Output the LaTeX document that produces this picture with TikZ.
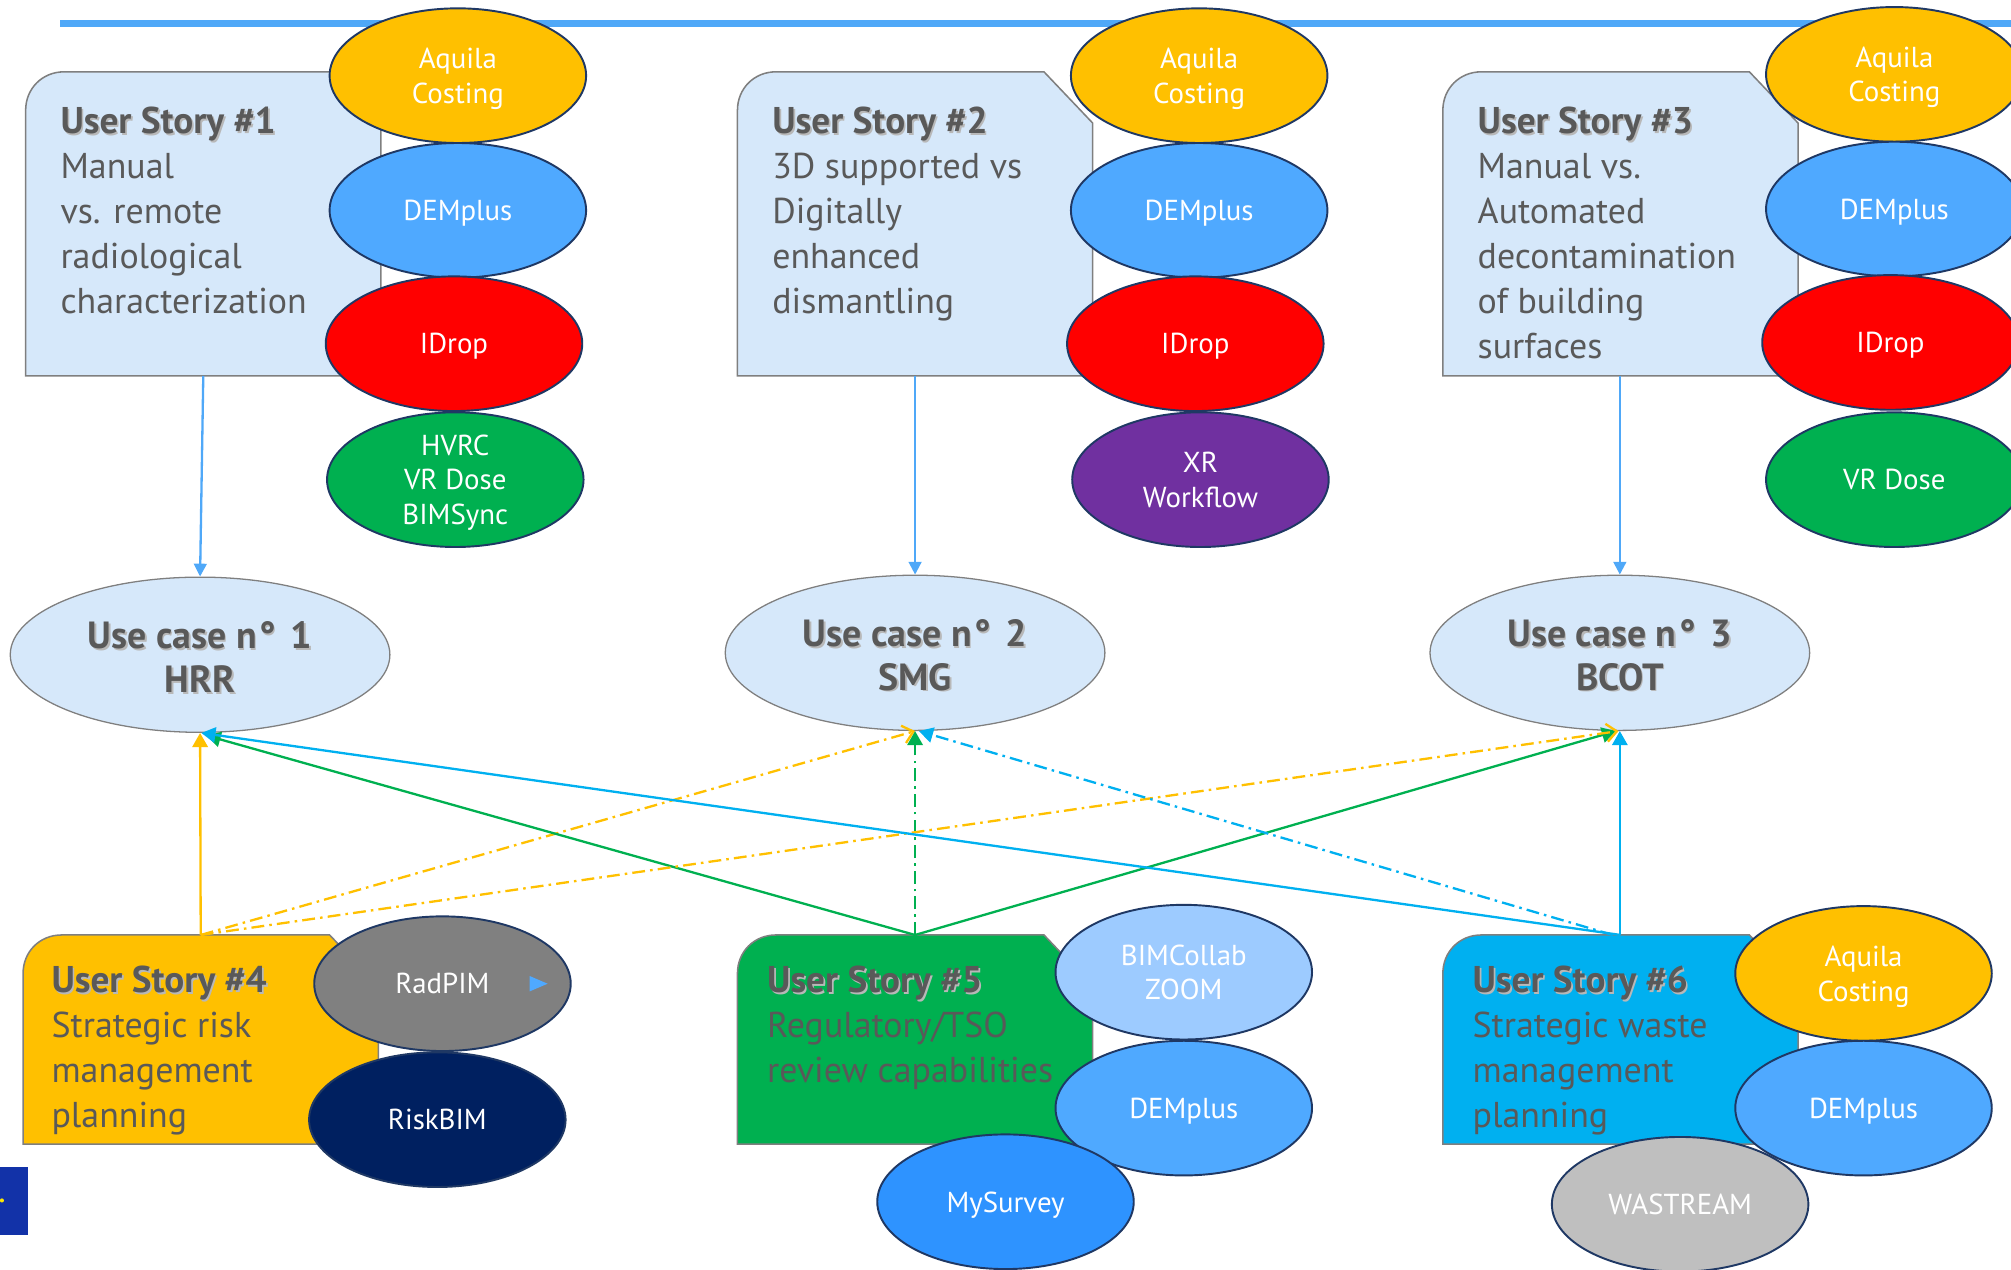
\documentclass[tikz,border=0pt]{standalone}
\usepackage{fontspec}
\setmainfont{PT Sans}
\usetikzlibrary{shapes.geometric,arrows.meta,calc}
\definecolor{boxfill}{HTML}{D6E8FA}
\definecolor{boxline}{HTML}{7F7F7F}
\definecolor{txtgray}{HTML}{595959}
\definecolor{shgray}{HTML}{B8B8B8}
\definecolor{ellline}{HTML}{1F3864}
\definecolor{cAquila}{HTML}{FFC000}
\definecolor{cDEM}{HTML}{4FA9FF}
\definecolor{cIDrop}{HTML}{FF0000}
\definecolor{cGreen}{HTML}{00B050}
\definecolor{cPurple}{HTML}{7030A0}
\definecolor{cRad}{HTML}{808080}
\definecolor{cRisk}{HTML}{002060}
\definecolor{cBIM}{HTML}{9DCBFF}
\definecolor{cMySurvey}{HTML}{2E93FF}
\definecolor{cWaste}{HTML}{BFBFBF}
\definecolor{cLineBlue}{HTML}{00B0F0}
\definecolor{cTop}{HTML}{4FA8F8}
\definecolor{euBlue}{HTML}{1232A8}
\newcommand\shtext[1]{\makebox[0pt][l]{\kern1.3pt\raisebox{-1.3pt}{\textcolor{shgray}{#1}}}#1}
\newcommand\ustitle[1]{\shtext{\fontsize{29}{35}\selectfont\bfseries #1}}
\tikzset{
  boxnode/.style={rectangle, draw=none, inner sep=0pt, outer sep=0pt},
  ustext/.style={anchor=north west, inner sep=0pt, align=left, text=txtgray, font=\fontsize{28}{35}\selectfont},
  tool/.style={ellipse, draw=ellline, line width=1.5pt, minimum width=200pt, minimum height=105pt, inner sep=0pt, text=white, align=center, text depth=0pt, font=\fontsize{22.5}{27}\selectfont},
  usecase/.style={ellipse, draw=boxline, line width=1pt, fill=boxfill, minimum width=296pt, minimum height=121pt, inner sep=0pt},
  uclabel/.style={inner sep=0pt, text=txtgray, align=center, font=\bfseries\fontsize{29.5}{34}\selectfont},
  toparrow/.style={draw=cTop, line width=1.8pt, -{Triangle[length=10pt,width=10pt]}},
  conn/.style={line width=1.8pt},
  dashdot/.style={dash pattern=on 10pt off 4pt on 2pt off 4pt},
  filledtip/.style={-{Triangle[length=11pt,width=12pt]}},
  opentip/.style={-{Straight Barb[length=8pt,width=14pt,line width=1.8pt]}}
}
\begin{document}
\begin{tikzpicture}[x=1pt,y=-1pt]
\useasboundingbox (0,0) rectangle (1568,990);
% top rule
\draw[cTop, line width=5.5pt] (47,18) -- (1570,18);

% user story box frames
\node[boxnode, minimum width=277pt, minimum height=237pt] (us1) at (158.5,174.5) {};
\node[boxnode, minimum width=277pt, minimum height=237pt] (us2) at (713.5,174.5) {};
\node[boxnode, minimum width=277pt, minimum height=237pt] (us3) at (1263.5,174.5) {};
\node[boxnode, minimum width=277pt, minimum height=163pt] (us4) at (156.5,810.5) {};
\node[boxnode, minimum width=277pt, minimum height=163pt] (us5) at (713.5,810.5) {};
\node[boxnode, minimum width=277pt, minimum height=163pt] (us6) at (1263.5,810.5) {};
\foreach \b/\c in {us1/boxfill,us2/boxfill,us3/boxfill,us4/cAquila,us5/cGreen,us6/cLineBlue}{
  \draw[draw=boxline, line width=1.2pt, fill=\c]
    (\b.south west) -- ([yshift=-30pt]\b.north west)
    .. controls ([yshift=-13pt]\b.north west) and ([xshift=13pt]\b.north west) .. ([xshift=30pt]\b.north west)
    -- ([xshift=-38pt]\b.north east) -- ([yshift=-40pt]\b.north east) -- (\b.south east) -- cycle;
}

% texts of the boxes
\node[ustext] (t1) at (47,79.5) {\strut\ustitle{User Story \#1}\\Manual\\vs. remote\\radiological\\characterization};
\node[ustext] (t2) at (602,79.5) {\strut\ustitle{User Story \#2}\\3D supported vs\\Digitally\\enhanced\\dismantling};
\node[ustext] (t3) at (1152,79.5) {\strut\ustitle{User Story \#3}\\Manual vs.\\Automated\\decontamination\\of building\\surfaces};
\node[ustext] (t4) at (40,749.5) {\strut\ustitle{User Story \#4}\\Strategic risk\\management\\planning};
\node[ustext] (t5) at (598,749.5) {\strut\ustitle{User Story \#5}\\Regulatory/TSO\\review capabilities};
\node[ustext] (t6) at (1148,749.5) {\strut\ustitle{User Story \#6}\\Strategic waste\\management\\planning};

% use cases
\node[usecase] (uc1) at (156,510.5) {};
\node[usecase] (uc2) at (713.5,509) {};
\node[usecase] (uc3) at (1263,509) {};
\node[uclabel] (l1) at ([yshift=-2.5pt]uc1.center) {\shtext{Use case n\kern2pt°\hspace{0.4em}1}\\\shtext{HRR}};
\node[uclabel] (l2) at ([yshift=-2.5pt]uc2.center) {\shtext{Use case n\kern2pt°\hspace{0.4em}2}\\\shtext{SMG}};
\node[uclabel] (l3) at ([yshift=-2.5pt]uc3.center) {\shtext{Use case n\kern2pt°\hspace{0.4em}3}\\\shtext{BCOT}};

% top tool groups
\node[tool, fill=cAquila] (a1) at (357,59) {Aquila\\Costing};
\node[tool, fill=cDEM] (d1) at (357,164) {DEMplus};
\node[tool, fill=cIDrop] (i1) at (354,268) {IDrop};
\node[tool, fill=cGreen] (h1) at (355,374) {HVRC\\VR Dose\\BIMSync};

\node[tool, fill=cAquila] (a2) at (935,59) {Aquila\\Costing};
\node[tool, fill=cDEM] (d2) at (935,164) {DEMplus};
\node[tool, fill=cIDrop] (i2) at (932,268) {IDrop};
\node[tool, fill=cPurple] (x2) at (936,374) {XR\\Workflow};

\node[tool, fill=cAquila] (a3) at (1477,58) {Aquila\\Costing};
\node[tool, fill=cDEM] (d3) at (1477,163) {DEMplus};
\node[tool, fill=cIDrop] (i3) at (1474,267) {IDrop};
\node[tool, fill=cGreen] (v3) at (1477,374) {VR Dose};

% bottom tool groups
\node[tool, fill=cRad] (rp) at (345,767) {RadPIM};
\fill[cDEM] ([xshift=68pt,yshift=6pt]rp.center) -- ([xshift=82pt]rp.center) -- ([xshift=68pt,yshift=-6pt]rp.center) -- cycle;
\node[tool, fill=cRisk] (rb) at (341,873) {RiskBIM};

\node[tool, fill=cBIM] (bz) at (923,758) {BIMCollab\\ZOOM};
\node[tool, fill=cDEM] (d5) at (923,864) {DEMplus};
\node[tool, fill=cMySurvey] (ms) at (784,937) {MySurvey};

\node[tool, fill=cAquila] (a6) at (1453,759) {Aquila\\Costing};
\node[tool, fill=cDEM] (d6) at (1453,864) {DEMplus};
\node[tool, fill=cWaste] (ws) at (1310,939) {WASTREAM};

% flag fragment
\fill[euBlue] (0,910) rectangle (22,963);
\fill[yellow!90!orange] (1.5,936) circle[radius=1.6pt];

% story -> use case
\draw[toparrow] (us1.south) -- (uc1.north);
\draw[toparrow] (us2.south) -- (uc2.north);
\draw[toparrow] ([xshift=-0.5pt]us3.south) -- (uc3.north);

% bottom connectors
\draw[conn, draw=cAquila, filledtip] (us4.north) -- (uc1.south);
\draw[conn, draw=cAquila, dashdot, opentip] (us4.north) -- (uc2.south);
\draw[conn, draw=cGreen, filledtip] (us5.north) -- ([xshift=5pt,yshift=-2pt]uc1.south);
\draw[conn, draw=cGreen, dashdot, filledtip] (us5.north) -- (uc2.south);
\draw[conn, draw=cGreen, filledtip] (us5.north) -- ([xshift=-3pt]uc3.south);
\draw[conn, draw=cAquila, dashdot, opentip] (us4.north) -- ([xshift=-1pt]uc3.south);
\draw[conn, draw=cLineBlue, filledtip] (us6.north) -- ([xshift=1pt]uc1.south);
\draw[conn, draw=cLineBlue, dashdot, filledtip] ([xshift=-6pt]us6.north) -- ([xshift=3pt]uc2.south);
\draw[conn, draw=cLineBlue, filledtip] ([xshift=-0.5pt]us6.north) -- (uc3.south);
\end{tikzpicture}
\end{document}
